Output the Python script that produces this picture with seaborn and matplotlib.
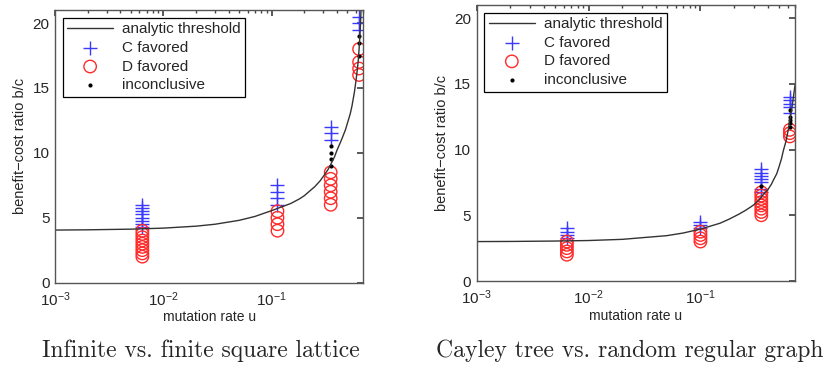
import matplotlib

matplotlib.use("Agg")

import matplotlib.pyplot as plt
import pandas as pd
import seaborn as sns
from matplotlib.ticker import FixedLocator, LogLocator, NullFormatter

# analytic threshold curves
LEFT_CURVE_U = [0.001, 0.002, 0.005, 0.01, 0.02, 0.03, 0.05, 0.07, 0.1, 0.12,
                0.15, 0.18, 0.2, 0.22, 0.25, 0.28, 0.3, 0.33, 0.35, 0.38, 0.4,
                0.43, 0.45, 0.48, 0.5, 0.53, 0.55, 0.58, 0.6, 0.62, 0.63, 0.64,
                0.65, 0.66, 0.67]
LEFT_CURVE_BC = [4.05, 4.07, 4.12, 4.2, 4.35, 4.5, 4.8, 5.1, 5.55, 5.8,
                 6.1, 6.45, 6.7, 7.0, 7.4, 7.85, 8.2, 8.7, 9.1, 9.7, 10.2,
                 10.8, 11.2, 11.8, 12.3, 13.0, 13.6, 14.7, 15.6, 16.6, 17.2, 18.0,
                 18.9, 20.0, 21.5]

RIGHT_CURVE_U = [0.001, 0.002, 0.005, 0.01, 0.02, 0.05, 0.07, 0.1, 0.12, 0.15,
                 0.18, 0.2, 0.22, 0.25, 0.28, 0.3, 0.33, 0.35, 0.38, 0.4, 0.43,
                 0.45, 0.48, 0.5, 0.53, 0.55, 0.58, 0.6, 0.62, 0.64, 0.66, 0.68,
                 0.7]
RIGHT_CURVE_BC = [3.0, 3.01, 3.04, 3.08, 3.17, 3.45, 3.65, 3.95, 4.15, 4.4,
                  4.7, 4.9, 5.08, 5.35, 5.62, 5.8, 6.12, 6.4, 6.75, 6.95, 7.35,
                  7.7, 8.15, 8.6, 9.3, 9.9, 10.6, 11.2, 11.9, 12.6, 13.3, 14.1,
                  14.9]

# simulation outcomes: one list of b/c values per mutation rate
LEFT_U = [0.0064, 0.113, 0.35, 0.64]
LEFT_C = [[4.25, 4.5, 4.75, 5.0, 5.25, 5.5, 5.75, 6.0],
          [6.0, 6.5, 7.0, 7.5],
          [11.0, 11.5, 12.0],
          [19.5, 20.0, 20.5]]
LEFT_D = [[2.0, 2.25, 2.5, 2.75, 3.0, 3.25, 3.5, 3.75, 4.0],
          [4.0, 4.5, 5.0, 5.5],
          [6.0, 6.5, 7.0, 7.5, 8.0, 8.5],
          [16.0, 16.5, 17.0, 18.0]]
LEFT_X = [[], [], [9.0, 9.5, 10.0, 10.5], [17.5, 18.5, 19.0]]

RIGHT_U = [0.0064, 0.1, 0.35, 0.63]
RIGHT_C = [[3.25, 3.5, 3.75, 4.0],
           [4.0, 4.25, 4.5],
           [6.75, 7.0, 7.5, 7.75, 8.0, 8.25, 8.5],
           [12.75, 13.25, 13.5, 13.75, 14.0]]
RIGHT_D = [[2.0, 2.25, 2.5, 2.75, 3.0],
           [3.0, 3.25, 3.5, 3.75],
           [5.0, 5.25, 5.5, 5.75, 6.0, 6.25, 6.5, 6.75],
           [11.0, 11.25, 11.5]]
RIGHT_X = [[], [], [7.25], [11.75, 12.0, 12.25, 12.5, 13.0]]

TITLES = ["Infinite vs. finite square lattice", "Cayley tree vs. random regular graph"]


def outcomes_frame(us, c_vals, d_vals, x_vals):
    rows = []
    for name, groups in (("C favored", c_vals), ("D favored", d_vals), ("inconclusive", x_vals)):
        for u, vals in zip(us, groups):
            for v in vals:
                rows.append({"u": u, "bc": v, "outcome": name})
    return pd.DataFrame(rows)


def draw_panel(ax, curve_u, curve_bc, points):
    sns.lineplot(x=curve_u, y=curve_bc, ax=ax, color="#333333", lw=1.0,
                 label="analytic threshold", sort=False)
    c = points[points.outcome == "C favored"]
    d = points[points.outcome == "D favored"]
    x = points[points.outcome == "inconclusive"]
    sns.scatterplot(data=c, x="u", y="bc", ax=ax, marker="+", s=90,
                    color="#3a3aff", linewidth=1.0, label="C favored")
    sns.scatterplot(data=d, x="u", y="bc", ax=ax, marker="o", s=80,
                    facecolors="none", edgecolor="#ff2a2a", linewidth=1.0,
                    label="D favored")
    sns.scatterplot(data=x, x="u", y="bc", ax=ax, marker="o", s=9,
                    color="black", linewidth=0, label="inconclusive")

    ax.set_xscale("log")
    ax.set_xlim(1e-3, 0.7)
    ax.set_ylim(0, 21)
    ax.yaxis.set_major_locator(FixedLocator([0, 5, 10, 15, 20]))
    ax.xaxis.set_major_locator(LogLocator(base=10, numticks=10))
    ax.xaxis.set_minor_locator(LogLocator(base=10, subs=range(2, 10), numticks=20))
    ax.xaxis.set_minor_formatter(NullFormatter())
    ax.tick_params(which="both", direction="in", top=True, right=True,
                   color="#444444", labelsize=11)
    ax.tick_params(axis="x", which="major", pad=5.5)
    ax.tick_params(axis="y", which="major", pad=4)
    ax.tick_params(which="major", length=4)
    ax.tick_params(which="minor", length=2.5)
    for spine in ax.spines.values():
        spine.set_color("#555555")
        spine.set_linewidth(1.0)
    ax.set_xlabel("mutation rate u", fontsize=10, labelpad=1)
    ax.set_ylabel("benefit\u2212cost ratio b/c", fontsize=10.5, labelpad=4)

    leg = ax.legend(loc="upper left", fontsize=11, frameon=True, fancybox=False,
                    edgecolor="black", framealpha=1, borderaxespad=0.5,
                    handlelength=3.0, handletextpad=0.6, labelspacing=0.3,
                    borderpad=0.3)
    leg.get_frame().set_linewidth(0.9)


def main() -> None:
    sns.set_theme(style="white")
    plt.rcParams["font.family"] = ["Liberation Sans", "DejaVu Sans"]

    fig = plt.figure(figsize=(8.27, 3.68), dpi=100)
    ax_left = fig.add_axes([0.0665, 0.232, 0.3728, 0.7405])
    ax_right = fig.add_axes([0.5764, 0.2364, 0.3849, 0.75])

    left_points = outcomes_frame(LEFT_U, LEFT_C, LEFT_D, LEFT_X)
    right_points = outcomes_frame(RIGHT_U, RIGHT_C, RIGHT_D, RIGHT_X)

    draw_panel(ax_left, LEFT_CURVE_U, LEFT_CURVE_BC, left_points)
    draw_panel(ax_right, RIGHT_CURVE_U, RIGHT_CURVE_BC, right_points)

    fig.text(0.243, 0.046, TITLES[0], ha="center", va="center",
             fontsize=17, family="cmr10")
    fig.text(0.762, 0.046, TITLES[1], ha="center", va="center",
             fontsize=17, family="cmr10")

    fig.savefig("out.png", dpi=100)
    plt.close(fig)


if __name__ == "__main__":
    main()
